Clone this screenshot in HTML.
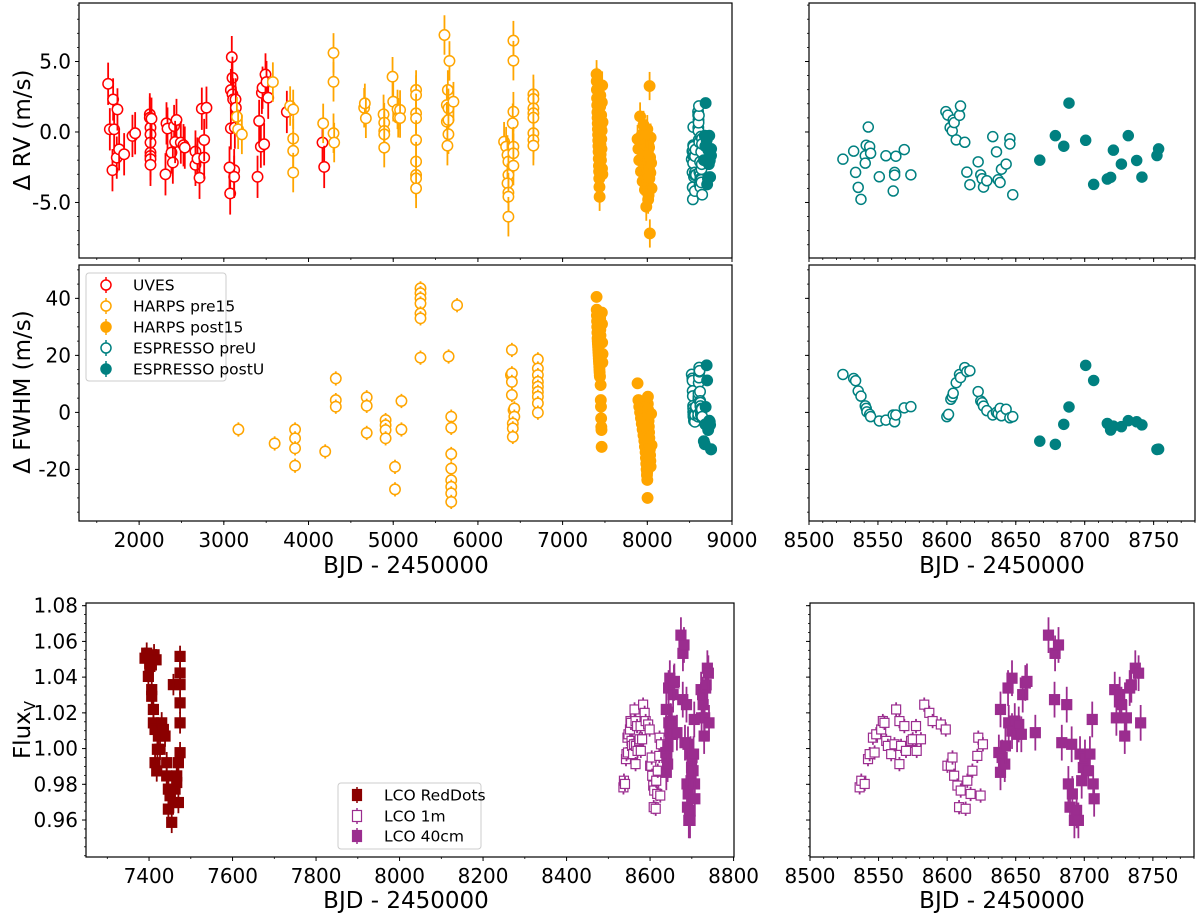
<!DOCTYPE html>
<html><head><meta charset="utf-8">
<style>
body{margin:0;background:#fff;}
svg{display:block;font-family:"DejaVu Sans","Liberation Sans",sans-serif;}
</style></head>
<body>
<svg id="fig" width="1200" height="915" viewBox="0 0 1200 915" xmlns="http://www.w3.org/2000/svg"></svg>
<script>
// ---------- DATA ----------
const uvesT=[1634,1654,1693,1705,1685,1744,1736,1764,1823,1921,1953,2126,2126,2134,2134,2134,2134,2134,2134,2134,2146,2311,2323,2335,2382,2398,2413,2441,2425,2492,2524,2539,2665,2665,2689,2713,2740,2768,2768,2795,3075,3083,3094,3102,3083,3102,3110,3122,3130,3138,3122,3142,3067,3398,3417,3437,3449,3457,3476,3492,3504,3524,3744,4165,4185];
const uvesRV=[3.42,0.19,2.31,0.19,-2.71,1.60,-1.82,-1.23,-1.58,-0.28,-0.09,1.25,1.01,0.31,-0.17,-0.75,-1.46,-1.70,-1.93,-2.33,0.94,-3.00,0.61,0.24,-1.46,-2.17,0.42,0.85,-0.71,-0.75,-0.94,-1.11,-1.39,-2.33,-1.89,-3.25,1.65,-1.82,-0.57,1.72,-4.36,0.26,5.31,3.84,2.97,2.67,2.31,-2.71,0.31,2.31,-3.18,1.72,-2.52,-3.18,0.78,-1.04,2.78,3.14,-0.87,4.08,3.54,2.43,1.42,-0.75,-2.48];

const preRvT=[3154,3169,3213,3579,3783,3819,3819,3819,3819,4173,4295,4295,4295,4303,4657,4665,4677,4886,4894,4894,4894,4894,4992,5000,5051,5059,5081,5081,5270,5270,5270,5270,5270,5270,5270,5270,5270,5605,5664,5645,5633,5652,5633,5652,5652,5640,5711,6419,6419,6419,6411,6309,6333,6349,6360,6419,6419,6419,6360,6349,6360,6360,6360,6655,6655,6655,6655,6655,6655,6655,6655];
const preRV=[1.08,0.19,-0.17,3.54,1.84,1.60,-0.47,-1.34,-2.88,0.61,5.61,3.56,-0.09,-0.75,1.72,2.03,0.97,1.25,0.66,0.07,-0.17,-1.11,3.92,2.15,1.60,1.01,1.56,0.99,2.98,2.62,1.32,0.97,-0.57,-2.10,-3.05,-3.29,-4.00,6.88,5.04,2.98,1.91,1.68,0.73,0.85,-0.16,-0.97,2.15,6.48,5.06,1.44,0.62,-0.69,-1.04,-1.63,-2.10,-1.04,-1.51,-2.39,-3.05,-3.64,-4.30,-4.59,-6.01,2.67,2.34,1.68,1.33,1.01,-0.09,-0.57,-0.97];

const preFwT=[3172,3600,3841,3841,3841,3841,4197,4322,4322,4322,4687,4687,4687,4910,4910,4910,4910,5021,5021,5097,5097,5322,5322,5322,5322,5322,5322,5322,5654,5754,5685,5685,5685,5685,5685,5685,5685,5685,6401,6390,6401,6401,6401,6420,6430,6430,6412,6412,6412,6708,6708,6708,6708,6708,6708,6708,6708,6708];
const preFW=[-6.0,-10.9,-6.0,-9.1,-12.6,-18.7,-13.7,11.9,4.3,2.0,5.3,2.3,-7.2,-2.7,-4.5,-6.2,-9.1,-19.1,-27.0,4.0,-6.0,43.5,41.8,40.0,38.2,34.7,33.0,19.2,19.6,37.6,-1.5,-5.4,-14.6,-19.7,-23.8,-26.1,-28.4,-31.4,21.9,13.1,13.7,10.7,6.1,0.8,1.4,-1.5,-3.9,-5.6,-8.6,18.6,15.4,13.1,10.7,9.0,7.2,5.5,3.2,-0.1];

const postT=[7401,7403,7405,7407,7409,7411,7413,7415,7417,7419,7421,7423,7425,7427,7429,7431,7433,7435,7437,7439,7441,7443,7445,7447,7449,7451,7453,7455,7457,7459,7461,7463,7465,7467,7469,7471,
7885,7895,7905,7915,7925,7935,7945,7955,7965,7972,7980,7984,7988,7992,7996,8000,8003,8006,8009,8012,8015,8018,8021,8024,8027,8030,8033,8036,8039,7998,8001,8004,8010,8016,8022,7990,7994,8007,8045,8050];
const postRV=[4.1,3.6,3.0,2.4,1.9,1.4,1.0,0.6,0.2,-0.2,-0.6,-1.0,-1.4,-1.9,-2.4,-2.8,-3.3,-3.9,-4.6,-0.3,0.9,1.8,2.6,-0.9,-1.6,0.4,-2.0,1.2,-0.5,-1.2,0.1,2.1,-2.6,3.3,-3.0,0.7,
-0.5,-1.2,-2.0,1.1,-2.8,-0.2,-3.5,0.5,-1.6,-4.1,-2.3,-0.9,-5.3,-1.9,-3.0,0.2,-2.6,-1.4,-3.8,-0.7,-4.5,-2.1,-1.1,-3.3,3.26,-7.2,-1.8,-2.9,-0.4,-1.5,-3.6,-2.4,-4.8,-1.0,-2.7,-0.1,-3.2,-1.7,-2.2,-4.0];
const postFW=[40.5,36,34,32,30,28,26,25,24,23,22,21,20,19,18,17,16,15,14,13,12.5,33,29,27,9.6,4.3,2.0,-2.1,-5.1,-6.2,-12.1,35,31,24.5,17.5,20.5,
10.2,4.3,2,0,-2,-4,-6,-8,-10,-12,-14,-16,-18,-20,-22,-23.7,-30,3,1,-1,-3,-5,-7,-9,-11,-13,-15,-17,-19,-21,-1.5,-6.5,-8.5,-12.5,-15.5,-4.5,-9.5,5.5,-0.5,-11.5];

const espPreRvT=[8524.6,8532.4,8533.8,8535.7,8537.7,8540.8,8540.8,8541.5,8543.0,8544.0,8544.7,8551.0,8555.8,8561.1,8562.1,8562.1,8563.0,8569.1,8573.9,8599.3,8600.7,8602.4,8603.9,8604.6,8605.3,8606.8,8609.2,8609.9,8613.0,8614.5,8616.7,8622.7,8624.6,8625.6,8626.6,8629.0,8633.3,8636.0,8637.2,8638.6,8639.6,8643.0,8645.7,8645.7,8647.8];
const espPreRV=[-1.93,-1.36,-2.87,-3.93,-4.78,-1.69,-2.21,-0.94,0.35,-1.04,-1.51,-3.18,-1.69,-4.19,-2.87,-3.06,-1.72,-1.25,-3.04,1.44,1.20,0.31,0.07,0.85,0.66,-0.56,1.18,1.84,-0.73,-2.85,-3.74,-2.12,-3.04,-3.32,-3.91,-3.46,-0.33,-1.41,-3.39,-3.58,-2.64,-2.28,-0.47,-0.85,-4.45];
const espPreFwT=[8524.6,8532.4,8533.8,8535.7,8537.7,8540.8,8541.5,8542.0,8544.0,8544.7,8551.0,8555.8,8561.1,8562.1,8563.0,8569.1,8573.9,8600.0,8601.2,8602.9,8603.9,8604.6,8606.8,8609.2,8609.9,8613.0,8614.5,8616.7,8622.7,8624.6,8625.6,8626.6,8629.0,8633.3,8636.0,8637.2,8638.6,8639.6,8643.0,8645.7,8647.8];
const espPreFW=[13.3,11.9,11.1,7.5,5.7,2.3,1.4,0.2,-0.7,-1.5,-3.0,-2.7,-0.9,-3.3,-0.9,1.6,2.0,-1.5,-0.7,4.6,5.5,6.7,10.4,13.3,12.2,15.7,14.3,14.6,7.3,4.0,3.4,2.2,0.6,-0.9,0,-0.4,1.4,-1.2,1.1,-1.9,-1.5];
const espPostT=[8667.4,8678.7,8684.8,8688.6,8700.7,8706.5,8716.4,8718.8,8720.8,8726.6,8731.6,8737.7,8741.5,8752.4,8753.6];
const espPostRV=[-2.00,-0.26,-1.01,2.05,-0.59,-3.72,-3.34,-3.22,-1.29,-2.28,-0.26,-2.02,-3.20,-1.67,-1.20];
const espPostFW=[-10.1,-11.2,-4.2,1.9,16.5,11.2,-3.9,-6.2,-4.8,-5.0,-2.9,-3.3,-4.4,-13.0,-12.9];

const rdT=[7394.4,7390.4,7398.4,7406.4,7406.4,7412.0,7416.8,7410.4,7410.4,7414.4,7414.4,7418.4,7422.4,7426.3,7430.3,7434.3,7438.3,7442.3,7442.3,7446.3,7450.3,7446.3,7454.3,7458.3,7462.3,7466.3,7470.3,7474.3,7470.3,7466.3,7458.3,7474.3,7474.3,7474.3,7474.3,7474.3,7402,7420];
const rdF=[1.0534,1.0506,1.0404,1.0330,1.0293,1.0525,1.0497,1.0219,1.0144,1.0107,0.9921,0.9875,1.0070,0.9996,1.0144,1.0107,1.0070,0.9921,0.9847,0.9773,0.9736,0.9661,0.9587,0.9698,0.9773,0.9847,0.9921,0.9977,0.9698,0.9810,1.0358,1.0516,1.0423,1.0256,1.0144,1.0358,1.046,0.9996];
const m1T=[8536.2,8537.4,8539.9,8542.3,8543.5,8547.1,8545.9,8548.3,8551.9,8553.1,8554.3,8555.6,8556.8,8559.2,8561.6,8562.8,8565.2,8565.2,8566.4,8568.8,8570.0,8573.7,8574.9,8577.3,8577.8,8580.9,8583.3,8587.0,8589.4,8595.4,8599.0,8600.2,8602.7,8603.9,8605.1,8607.5,8608.7,8609.9,8613.5,8614.7,8617.1,8618.4,8622.0,8622.7,8624.4,8626.1];
const m1F=[0.9783,0.9820,0.9802,0.9941,0.9969,0.9978,1.0061,1.0080,1.0107,1.0154,1.0144,1.0043,1.0015,0.9969,1.0024,1.0219,1.0154,0.9913,1.0015,1.0126,0.9987,1.0043,1.0052,1.0126,0.9987,1.0052,1.0246,1.0200,1.0154,1.0135,1.0107,0.9904,0.9904,0.9950,0.9848,0.9793,0.9672,0.9765,0.9663,0.9820,0.9746,0.9876,0.9959,1.0061,0.9737,1.0024];
const c40T=[8637.7,8638.9,8640.1,8642.0,8638.9,8642.5,8644.4,8647.3,8644.9,8647.3,8649.3,8651.0,8652.2,8654.1,8655.1,8657.0,8658.2,8664.3,8673.9,8678.7,8681.2,8678.3,8683.6,8687.2,8688.4,8689.6,8690.8,8691.3,8692.8,8694.4,8695.7,8696.9,8698.1,8699.3,8700.5,8702.9,8704.1,8705.8,8706.5,8707.2,8722.2,8723.4,8725.8,8727.1,8729.5,8730.7,8733.1,8734.3,8737.2,8739.6,8741.1];
const c40F=[0.9978,0.9867,0.9950,0.9913,1.0219,1.0015,1.0339,1.0394,1.0144,1.0098,1.0154,1.0080,1.0135,1.0080,1.0302,1.0367,1.0376,1.0089,1.0635,1.0533,1.0580,1.0274,1.0033,1.0246,0.9802,0.9672,1.0024,0.9746,0.9598,0.9654,0.9598,0.9969,0.9820,0.9894,0.9950,0.9876,0.9969,1.0163,0.9802,0.9719,1.0330,1.0172,1.0302,1.0246,1.0070,1.0172,1.0339,1.0357,1.0450,1.0422,1.0144];

const xTicksL=[2000,3000,4000,5000,6000,7000,8000,9000];
const xTicksR=[8500,8550,8600,8650,8700,8750];
const xTicksB=[7400,7600,7800,8000,8200,8400,8600,8800];
const rvTicks=[-5,0,5];
const rvTickLabels=["-5.0","0.0","5.0"];
const fwTicks=[-20,0,20,40];
const flTicks=[0.96,0.98,1.00,1.02,1.04,1.06,1.08];

// ---------- DRAW ----------
const NS="http://www.w3.org/2000/svg";
const svg=document.getElementById('fig');
function el(tag,attrs,parent){const e=document.createElementNS(NS,tag);for(const k in attrs)e.setAttribute(k,attrs[k]);(parent||svg).appendChild(e);return e;}
const C={red:'#ff0000',orange:'#ffa500',teal:'#008080',dred:'#8b0000',purple:'#9b2d8f'};

function makePanel(name,x0,x1,y0,y1,xl,yl){
  const g=el('g',{});
  
  
  const sx=v=>x0+(v-xl[0])/(xl[1]-xl[0])*(x1-x0);
  const sy=v=>y1-(v-yl[0])/(yl[1]-yl[0])*(y1-y0);
  const clip='clip-'+name;
  const cp=el('clipPath',{id:clip},g);el('rect',{x:x0,y:y0,width:x1-x0,height:y1-y0},cp);
  const data=el('g',{'clip-path':'url(#'+clip+')'},g);
  
  
  return {g,data,sx,sy,x0,x1,y0,y1,xl,yl};
}
function frame(p){
  const r=el('rect',{x:p.x0,y:p.y0,width:p.x1-p.x0,height:p.y1-p.y0,fill:'none',stroke:'#000','stroke-width':1.2},p.g);
  
  
}
function xticks(p,major,minorStep,labels){
  for(let v=Math.ceil(p.xl[0]/minorStep)*minorStep;v<=p.xl[1]+1e-9;v+=minorStep){
    const X=p.sx(v);el('line',{x1:X,x2:X,y1:p.y1,y2:p.y1+2,stroke:'#000','stroke-width':0.8},p.g);
  }
  major.forEach(v=>{const X=p.sx(v);el('line',{x1:X,x2:X,y1:p.y1,y2:p.y1+4,stroke:'#000','stroke-width':1},p.g);
    if(labels){const t=el('text',{x:X,y:p.y1+26,'font-size':20,'text-anchor':'middle'},p.g);t.textContent=v;
      
      }});
}
function yticks(p,major,minorStep,labels){
  for(let v=Math.ceil(p.yl[0]/minorStep-1e-9)*minorStep;v<=p.yl[1]+1e-9;v+=minorStep){
    const Y=p.sy(v);el('line',{x1:p.x0-2,x2:p.x0,y1:Y,y2:Y,stroke:'#000','stroke-width':0.8},p.g);
  }
  major.forEach((v,i)=>{const Y=p.sy(v);el('line',{x1:p.x0-4,x2:p.x0,y1:Y,y2:Y,stroke:'#000','stroke-width':1},p.g);
    if(labels){const t=el('text',{x:p.x0-8,y:Y+7,'font-size':20,'text-anchor':'end'},p.g);t.textContent=labels[i];
      
      }});
}
function series(p,xs,ys,err,color,shape,filled,size,name){
  const g=el('g',{},p.data);
  
  
  xs.forEach((xv,i)=>{
    const X=p.sx(xv),Y=p.sy(ys[i]);
    el('line',{x1:X,x2:X,y1:p.sy(ys[i]-err),y2:p.sy(ys[i]+err),stroke:color,'stroke-width':1.8},g);
    let m;
    if(shape==='o') m=el('circle',{cx:X,cy:Y,r:size,fill:filled?color:'#fff',stroke:color,'stroke-width':1.5},g);
    else m=el('rect',{x:X-size,y:Y-size,width:2*size,height:2*size,fill:filled?color:'#fff',stroke:color,'stroke-width':1.2},g);
    
    
  });
}
function text(x,y,s,size,anchor,rot,name){
  const t=el('text',{x:x,y:y,'font-size':size,'text-anchor':anchor||'middle'});
  if(rot)t.setAttribute('transform','rotate(-90 '+x+' '+y+')');
  t.textContent=s;
  
  
  return t;
}

const xlL=[1290,9000], xlR=[8500,8780], xlB=[7249,8801];
const ylRV=[-8.94,9.15], ylFW=[-38.1,51.7], ylFL=[0.9393,1.0815];

const A=makePanel('rv-panel-full',79,732,3,258,xlL,ylRV);
const B=makePanel('fwhm-panel-full',79,732,265,521,xlL,ylFW);
const Cp=makePanel('rv-panel-zoom',809,1195,3,258,xlR,ylRV);
const D=makePanel('fwhm-panel-zoom',809,1195,265,521,xlR,ylFW);
const E=makePanel('flux-panel-full',86,734,603,857,xlB,ylFL);
const F=makePanel('flux-panel-zoom',810,1194,603,857,xlR,ylFL);

// RV full
series(A,uvesT,uvesRV,1.5,C.red,'o',false,5.2,'uves-rv');
series(A,preRvT,preRV,1.4,C.orange,'o',false,5.2,'harps-pre15-rv');
series(A,postT,postRV,1.0,C.orange,'o',true,5.2,'harps-post15-rv');
series(A,espPreRvT,espPreRV,0.2,C.teal,'o',false,5.2,'espresso-preu-rv');
series(A,espPostT,espPostRV,0.2,C.teal,'o',true,5.2,'espresso-postu-rv');
// FWHM full
series(B,preFwT,preFW,2.5,C.orange,'o',false,5.2,'harps-pre15-fwhm');
series(B,postT,postFW,1.5,C.orange,'o',true,5.2,'harps-post15-fwhm');
series(B,espPreFwT,espPreFW,0.5,C.teal,'o',false,5.2,'espresso-preu-fwhm');
series(B,espPostT,espPostFW,0.5,C.teal,'o',true,5.2,'espresso-postu-fwhm');
// zoom panels
series(Cp,espPreRvT,espPreRV,0.2,C.teal,'o',false,5,'espresso-preu-rv-zoom');
series(Cp,espPostT,espPostRV,0.2,C.teal,'o',true,5,'espresso-postu-rv-zoom');
series(D,espPreFwT,espPreFW,0.5,C.teal,'o',false,5,'espresso-preu-fwhm-zoom');
series(D,espPostT,espPostFW,0.5,C.teal,'o',true,5,'espresso-postu-fwhm-zoom');
// flux
series(E,rdT,rdF,0.006,C.dred,'s',true,5,'lco-reddots');
series(E,m1T,m1F,0.004,C.purple,'s',false,4.5,'lco-1m');
series(E,c40T,c40F,0.01,C.purple,'s',true,5,'lco-40cm');
series(F,m1T,m1F,0.004,C.purple,'s',false,4.5,'lco-1m-zoom');
series(F,c40T,c40F,0.01,C.purple,'s',true,5,'lco-40cm-zoom');

[A,B,Cp,D,E,F].forEach(frame);
xticks(A,xTicksL,500,null); xticks(B,xTicksL,500,true);
yticks(A,rvTicks,1,rvTickLabels); yticks(B,fwTicks,5,fwTicks.map(String));
xticks(Cp,xTicksR,10,null); xticks(D,xTicksR,10,true);
yticks(Cp,rvTicks,1,null); yticks(D,fwTicks,5,null);
xticks(E,xTicksB,100,true); xticks(F,xTicksR,10,true);
yticks(E,flTicks,0.005,flTicks.map(v=>v.toFixed(2))); yticks(F,flTicks,0.005,null);

text(30,130,'Δ RV (m/s)',23,'middle',true,'rv-y-axis-title');
text(30,392,'Δ FWHM (m/s)',23,'middle',true,'fwhm-y-axis-title');
text(406,573,'BJD - 2450000',23,'middle',false,'x-axis-title-top-left');
text(1002,573,'BJD - 2450000',23,'middle',false,'x-axis-title-top-right');
text(406,908,'BJD - 2450000',23,'middle',false,'x-axis-title-bottom-left');
text(1002,908,'BJD - 2450000',23,'middle',false,'x-axis-title-bottom-right');
const fl=text(30,730,'Flux',23,'middle',true,'flux-y-axis-title');
const sub=document.createElementNS(NS,'tspan');sub.setAttribute('font-size',15);sub.setAttribute('dy',5);sub.textContent='V';fl.appendChild(sub);

// legends
function legend(x,y,w,h,items,name){
  const g=el('g',{});
  
  
  el('rect',{x:x,y:y,width:w,height:h,rx:3,fill:'#fff',stroke:'#ccc','stroke-width':1},g);
  items.forEach(it=>{
    const e=el('g',{},g);
    
    
    el('line',{x1:it.mx,x2:it.mx,y1:it.y-8,y2:it.y+8,stroke:it.c,'stroke-width':1.5},e);
    if(it.s==='o')el('circle',{cx:it.mx,cy:it.y,r:5,fill:it.f?it.c:'#fff',stroke:it.c,'stroke-width':1.5},e);
    else el('rect',{x:it.mx-4.5,y:it.y-5.5,width:9,height:11,fill:it.f?it.c:'#fff',stroke:it.c,'stroke-width':1.2},e);
    const t=el('text',{x:it.tx,y:it.y+5.5,'font-size':15.5},e);t.textContent=it.l;
  });
}
legend(86,273,140,108,[
 {l:'UVES',c:C.red,s:'o',f:false,y:285,mx:106,tx:133},
 {l:'HARPS pre15',c:C.orange,s:'o',f:false,y:306,mx:106,tx:133},
 {l:'HARPS post15',c:C.orange,s:'o',f:true,y:327,mx:106,tx:133},
 {l:'ESPRESSO preU',c:C.teal,s:'o',f:false,y:348,mx:106,tx:133},
 {l:'ESPRESSO postU',c:C.teal,s:'o',f:true,y:369,mx:106,tx:133}],'legend-rv');
legend(338,783,143,66,[
 {l:'LCO RedDots',c:C.dred,s:'s',f:true,y:795,mx:357,tx:384},
 {l:'LCO 1m',c:C.purple,s:'s',f:false,y:816,mx:357,tx:384},
 {l:'LCO 40cm',c:C.purple,s:'s',f:true,y:836,mx:357,tx:384}],'legend-lco');
</script>
</body></html>
